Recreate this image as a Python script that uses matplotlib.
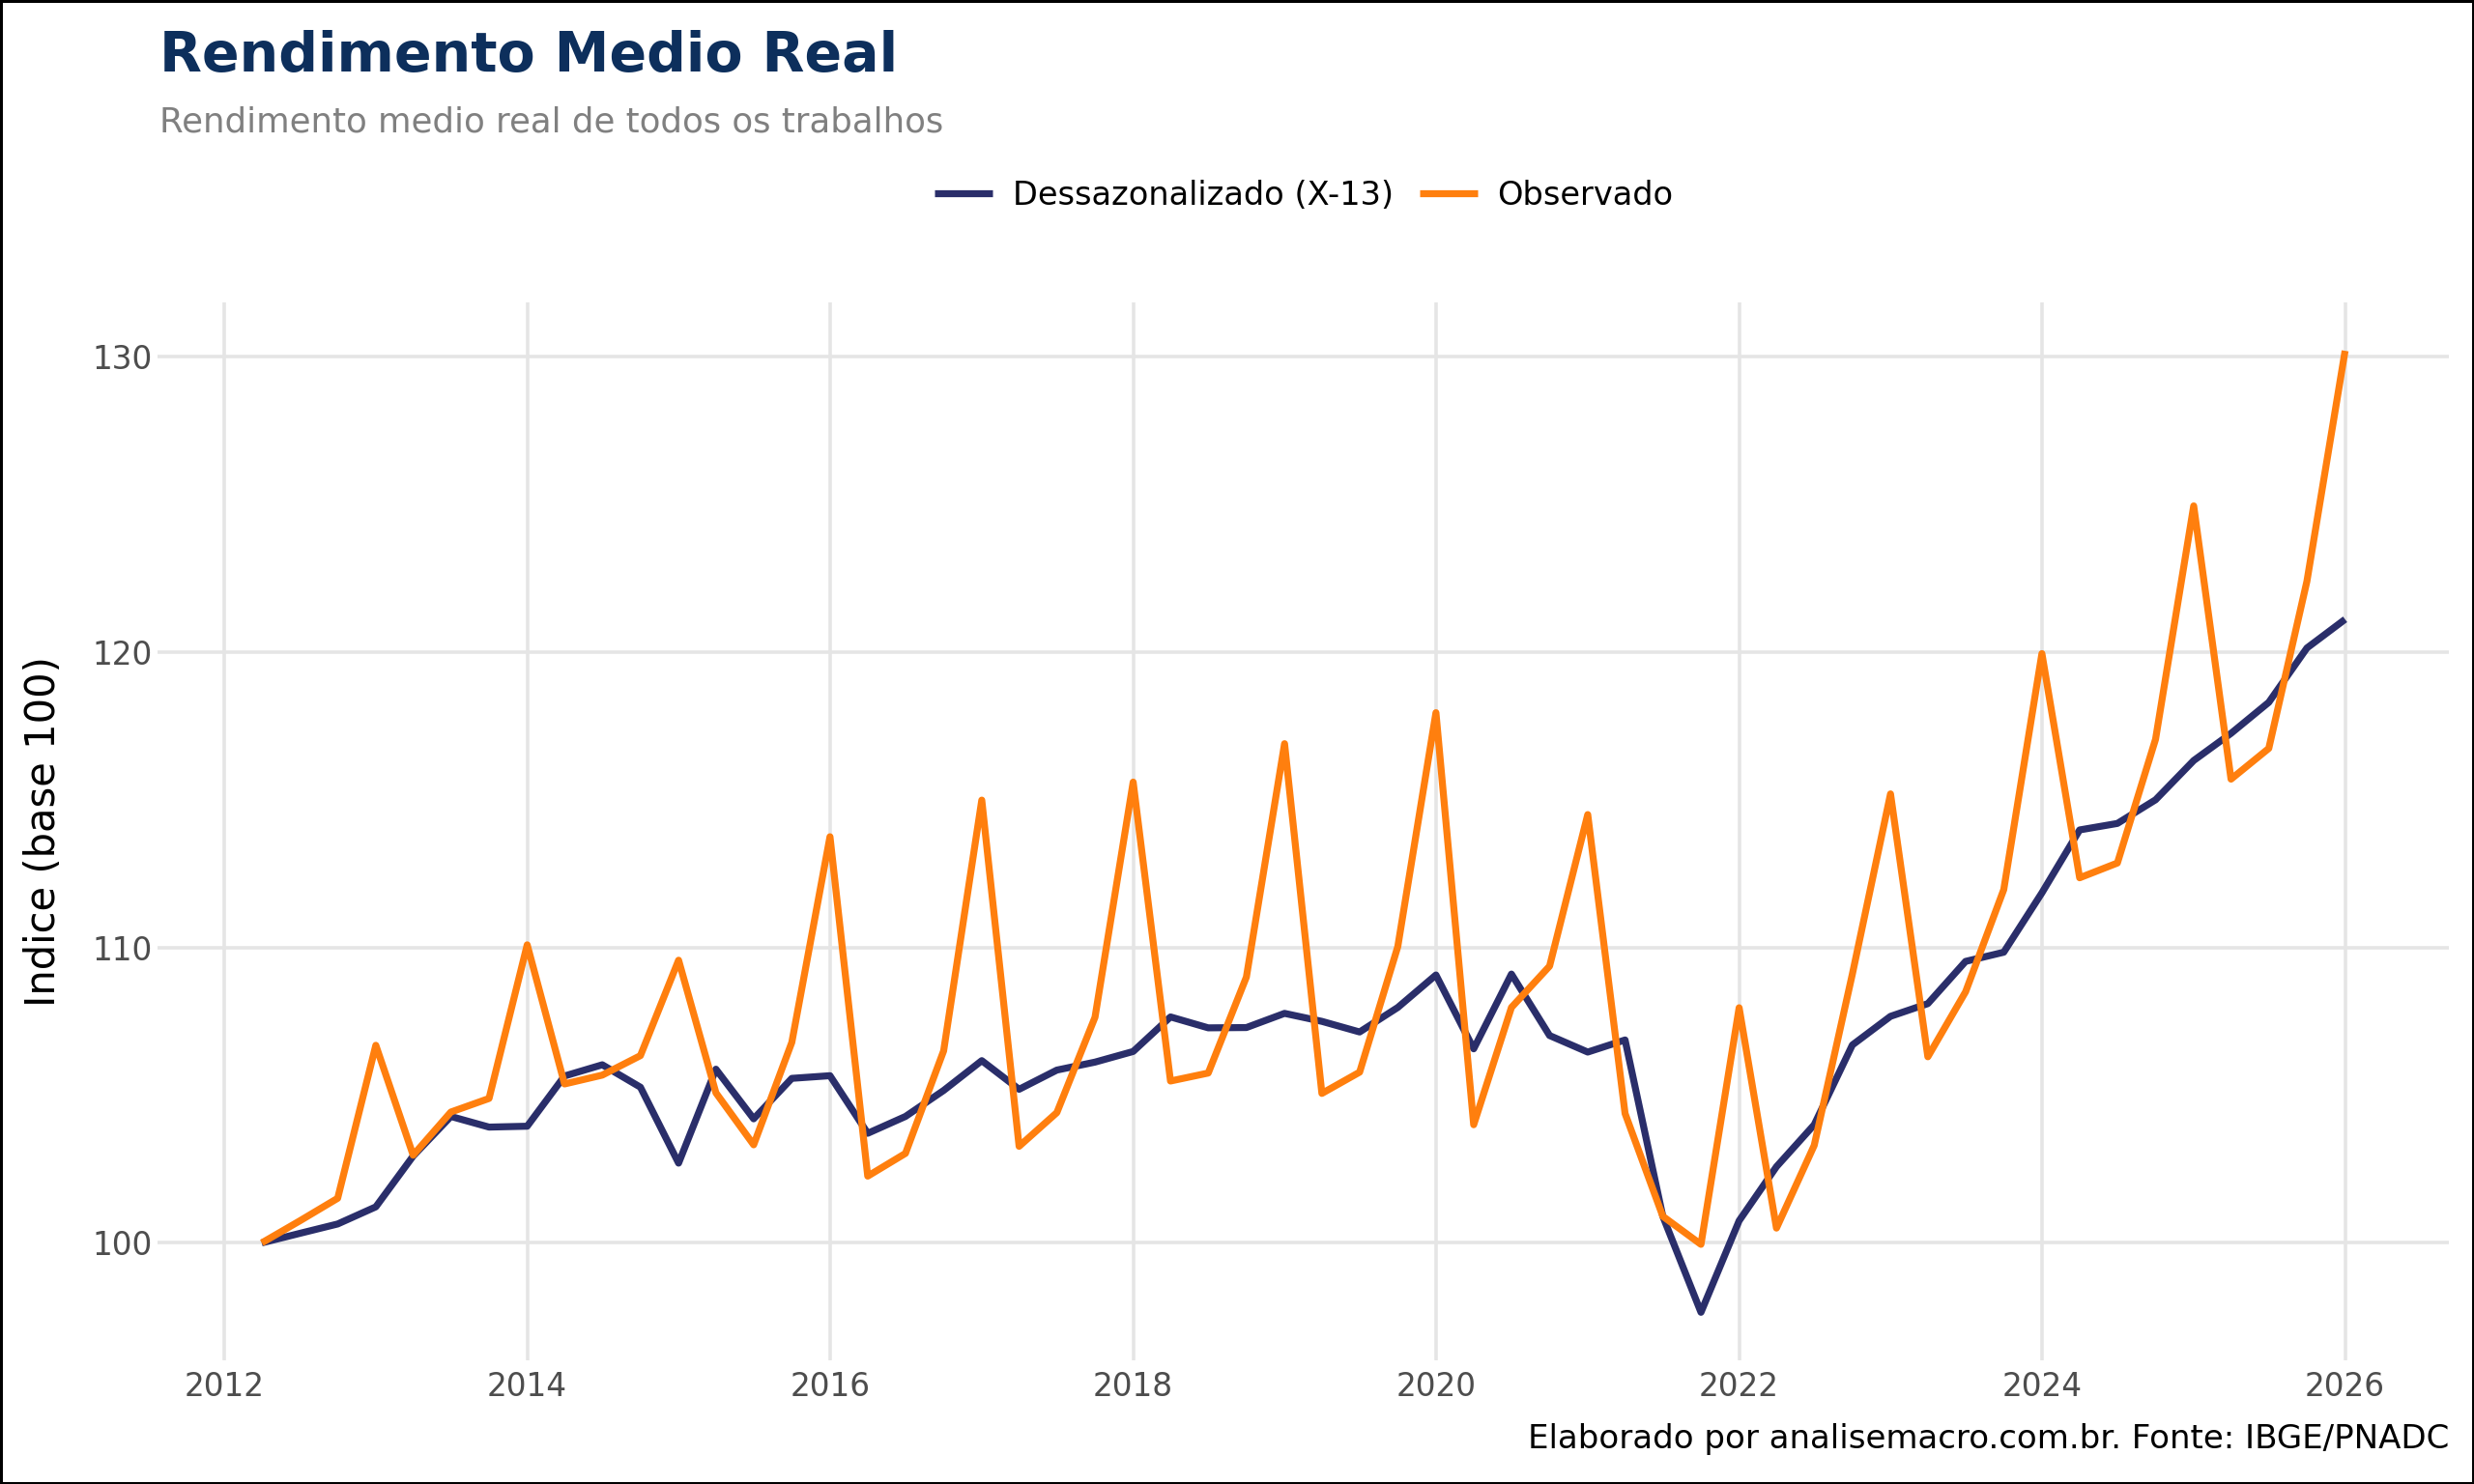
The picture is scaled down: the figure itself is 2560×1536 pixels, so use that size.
import numpy as np
import pandas as pd
import matplotlib
matplotlib.use("Agg")
from matplotlib import pyplot as plt
import matplotlib.dates as mdates


# quarterly index, base 100 = 2012 Q1
datas = pd.date_range("2012-04-01", "2026-01-01", freq="QS")

dessazonalizado = [100.0, 100.32, 100.64,
                   101.22, 102.94, 104.28, 103.92,
                   103.95, 105.65, 106.03, 105.27,
                   102.7, 105.88, 104.2, 105.57,
                   105.66, 103.71, 104.28, 105.16,
                   106.17, 105.2, 105.85, 106.12,
                   106.48, 107.65, 107.28, 107.29,
                   107.77, 107.5, 107.14, 107.97,
                   109.07, 106.57, 109.1, 107.02,
                   106.46, 106.87, 100.9, 97.65,
                   100.75, 102.58, 104.0, 106.7,
                   107.67, 108.1, 109.53, 109.84,
                   111.85, 113.98, 114.2, 115.0,
                   116.33, 117.25, 118.3, 120.14,
                   121.11]

observado = [100.0, 100.74, 101.51,
             106.69, 102.97, 104.43, 104.89,
             110.09, 105.38, 105.68, 106.34,
             109.57, 105.08, 103.32, 106.79,
             113.75, 102.26, 103.03, 106.5,
             114.99, 103.27, 104.41, 107.64,
             115.6, 105.48, 105.75, 109.0,
             116.9, 105.06, 105.78, 110.03,
             117.95, 104.0, 107.97, 109.37,
             114.5, 104.38, 100.9, 99.95,
             107.96, 100.5, 103.3, 109.1,
             115.2, 106.3, 108.5, 111.96,
             119.95, 112.36, 112.86, 117.05,
             124.95, 115.7, 116.74, 122.4,
             130.2]

series_nomes = ["Dessazonalizado (X-13)", "Observado"]
cores = ["#2A2E6A", "#FF7F0E"]

anos_ticks = [2012, 2014, 2016, 2018, 2020, 2022, 2024, 2026]
y_ticks = [100, 110, 120, 130]


fig = plt.figure(figsize=(12.8, 7.68), dpi=200, edgecolor="black", linewidth=1.2)
ax = fig.add_axes([0.0637, 0.0833, 0.9263, 0.7127])

for vals, nome, cor in zip([dessazonalizado, observado], series_nomes, cores):
    ax.plot(datas, vals, color=cor, lw=2.6, label=nome,
            solid_joinstyle="round", solid_capstyle="butt")

ax.margins(x=0.05, y=0.05)
ax.set_xticks([pd.Timestamp(f"{a}-01-01") for a in anos_ticks])
ax.xaxis.set_major_formatter(mdates.DateFormatter("%Y"))
ax.set_yticks(y_ticks)

ax.grid(True, color="#E5E5E5", lw=1.3)
ax.set_axisbelow(True)
for s in ax.spines.values():
    s.set_visible(False)
ax.tick_params(axis="both", length=0, labelsize=11.8, labelcolor="#4D4D4D")
ax.tick_params(axis="x", pad=4)
ax.tick_params(axis="y", pad=2)

fig.text(0.0175, 0.4398, "Indice (base 100)", rotation=90, ha="center", va="center",
         fontsize=15, color="black")

fig.text(0.0645, 0.952, "Rendimento Medio Real", fontsize=20.5, fontweight="bold",
         color="#0D2F5C", ha="left", va="baseline")
fig.text(0.0645, 0.911, "Rendimento medio real de todos os trabalhos", fontsize=12.8,
         color="#808080", ha="left", va="baseline")

fig.legend(loc="center", bbox_to_anchor=(0.527, 0.868), ncol=2, frameon=False,
           fontsize=12.1, handlelength=1.8, handletextpad=0.6, columnspacing=0.8)

fig.text(0.990, 0.024, "Elaborado por analisemacro.com.br. Fonte: IBGE/PNADC",
         fontsize=12.25, ha="right", va="baseline", color="black")

plt.savefig("out.png", dpi=200)
